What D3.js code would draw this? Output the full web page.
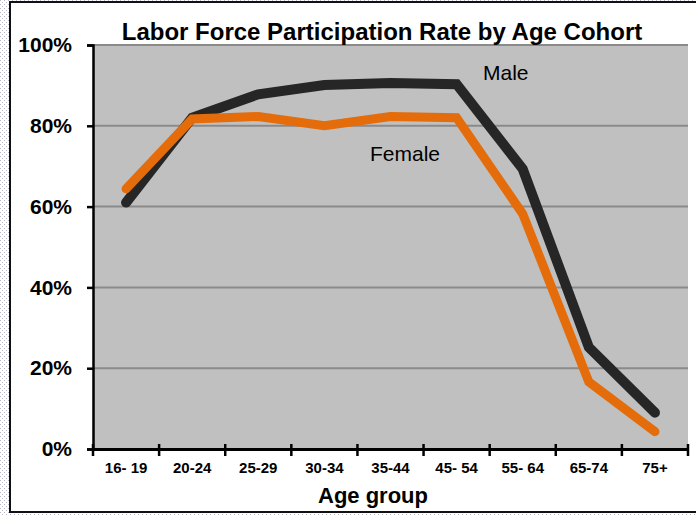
<!DOCTYPE html>
<html>
<head>
<meta charset="utf-8">
<script src="https://cdn.jsdelivr.net/npm/d3@7"></script>
<style>
  html, body { margin: 0; padding: 0; background: #fff; }
  svg { display: block; }
</style>
</head>
<body>
<script>
const categories = ["16- 19", "20-24", "25-29", "30-34", "35-44", "45- 54", "55- 64", "65-74", "75+"];
const maleValues = [0.61, 0.82, 0.878, 0.901, 0.906, 0.903, 0.693, 0.252, 0.09];
const femaleValues = [0.644, 0.817, 0.823, 0.80, 0.823, 0.82, 0.582, 0.166, 0.043];
const yTicks = [0, 0.2, 0.4, 0.6, 0.8, 1.0];
const seriesNames = ["Male", "Female"];

(function () {
const W = 696, H = 515;
const svg = d3.select("body").append("svg").attr("width", W).attr("height", H);

// patterned outer background
const defs = svg.append("defs");
const pat = defs.append("pattern").attr("id", "dots").attr("width", 4).attr("height", 4).attr("patternUnits", "userSpaceOnUse");
pat.append("rect").attr("width", 4).attr("height", 4).attr("fill", "#fff");
pat.append("rect").attr("x", 0).attr("y", 0).attr("width", 1).attr("height", 1).attr("fill", "#b8b8c8");
pat.append("rect").attr("x", 2).attr("y", 2).attr("width", 1).attr("height", 1).attr("fill", "#b8b8c8");
svg.append("rect").attr("width", W).attr("height", H).attr("fill", "url(#dots)");
svg.append("rect").attr("x", 10).attr("y", 2).attr("width", W + 10).attr("height", 510)
  .attr("fill", "#fff").attr("stroke", "#111").attr("stroke-width", 2);

const pLeft = 93, pRight = 688, pTop = 45, pBottom = 449;
const x = d3.scaleBand().domain(categories).range([pLeft, pRight]);
const y = d3.scaleLinear().domain([0, 1]).range([pBottom, pTop]);

svg.append("rect").attr("x", pLeft).attr("y", pTop).attr("width", pRight - pLeft).attr("height", pBottom - pTop).attr("fill", "#c0c0c0");

// gridlines
svg.append("g").selectAll("line").data(yTicks.filter(d => d > 0)).join("line")
  .attr("x1", pLeft).attr("x2", pRight)
  .attr("y1", d => y(d)).attr("y2", d => y(d))
  .attr("stroke", "#8a8a8a").attr("stroke-width", 2);

// y axis
const yAxis = svg.append("g").attr("transform", `translate(${pLeft},0)`)
  .call(d3.axisLeft(y).tickValues(yTicks).tickFormat(d3.format(".0%")).tickSize(6).tickPadding(15));
yAxis.select(".domain").attr("stroke", "#000").attr("stroke-width", 2.5);
yAxis.selectAll(".tick line").attr("stroke", "#000").attr("stroke-width", 2.5);
yAxis.selectAll("text").attr("font-family", "'Liberation Sans', Arial, sans-serif").attr("font-weight", "bold")
  .attr("font-size", 21).attr("fill", "#000");

// x axis
const xAxis = svg.append("g").attr("transform", `translate(0,${pBottom})`)
  .call(d3.axisBottom(x).tickSize(0).tickPadding(13));
xAxis.select(".domain").attr("stroke", "#000").attr("stroke-width", 3);
xAxis.selectAll(".tick line").remove();
xAxis.selectAll("text").attr("font-family", "'Liberation Sans', Arial, sans-serif").attr("font-weight", "bold")
  .attr("font-size", 15).attr("fill", "#000");
// boundary ticks
const boundaries = categories.map(c => x(c)).concat([pRight]);
xAxis.append("g").selectAll("line").data(boundaries).join("line")
  .attr("x1", d => d).attr("x2", d => d).attr("y1", -5).attr("y2", 7)
  .attr("stroke", "#000").attr("stroke-width", 2.5);

// lines
const line = d3.line().x((d, i) => x(categories[i]) + x.bandwidth() / 2).y(d => y(d));
svg.append("path").datum(maleValues).attr("d", line).attr("fill", "none")
  .attr("stroke", "#262626").attr("stroke-width", 10).attr("stroke-linecap", "round").attr("stroke-linejoin", "miter");
svg.append("path").datum(femaleValues).attr("d", line).attr("fill", "none")
  .attr("stroke", "#e46c0a").attr("stroke-width", 9).attr("stroke-linecap", "round").attr("stroke-linejoin", "miter");

// series labels
svg.append("text").attr("x", 483).attr("y", 80).text(seriesNames[0])
  .attr("font-family", "'Liberation Sans', Arial, sans-serif").attr("font-size", 21).attr("fill", "#000");
svg.append("text").attr("x", 370).attr("y", 161).text(seriesNames[1])
  .attr("font-family", "'Liberation Sans', Arial, sans-serif").attr("font-size", 21).attr("fill", "#000");

// title
svg.append("text").attr("x", 382).attr("y", 40).attr("text-anchor", "middle")
  .attr("font-family", "'Liberation Sans', Arial, sans-serif").attr("font-weight", "bold")
  .attr("font-size", 24)
  .text("Labor Force Participation Rate by Age Cohort");

// x axis title
svg.append("text").attr("x", 373).attr("y", 503).attr("text-anchor", "middle")
  .attr("font-family", "'Liberation Sans', Arial, sans-serif").attr("font-weight", "bold")
  .attr("font-size", 22).text("Age group");
})();
</script>
</body>
</html>
